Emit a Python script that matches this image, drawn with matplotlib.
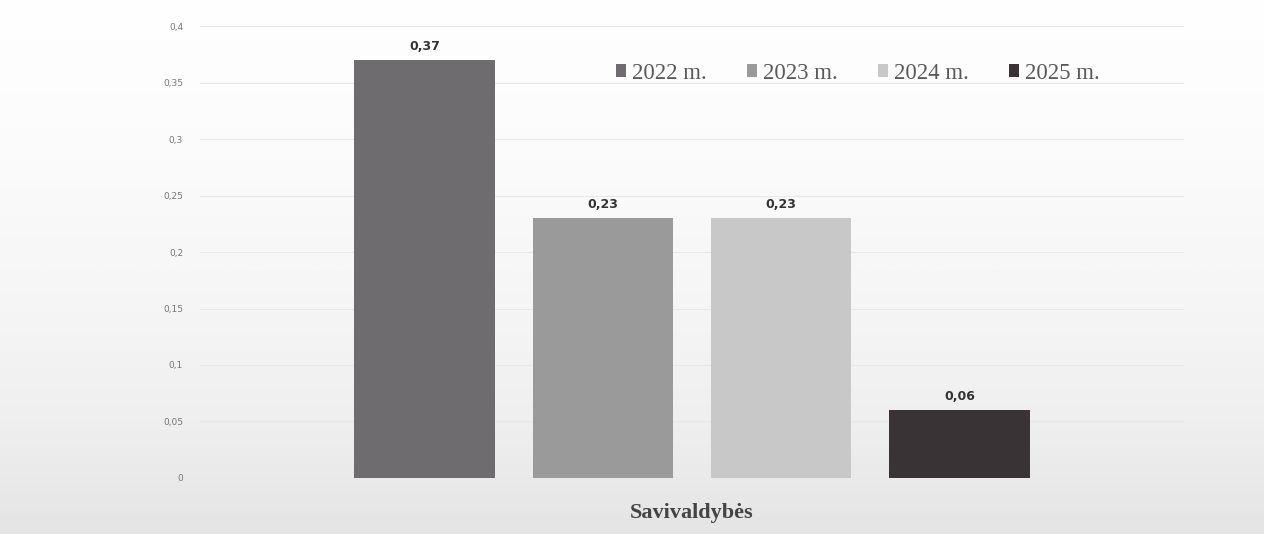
import numpy as np
import matplotlib.pyplot as plt

# ===== 数据 =====
category = 'Savivaldybės'
years = ['2022 m.', '2023 m.', '2024 m.', '2025 m.']
values = [0.37, 0.23, 0.23, 0.06]
colors = ['#6e6c6f', '#9b9a9b', '#c9c8c9', '#393335']
y_ticks = [0, 0.05, 0.1, 0.15, 0.2, 0.25, 0.3, 0.35, 0.4]
y_tick_labels = ['0', '0,05', '0,1', '0,15', '0,2', '0,25', '0,3', '0,35', '0,4']

# ===== 绘图 =====
fig = plt.figure(figsize=(12.64, 5.34), dpi=100, facecolor='white')

# 背景渐变（上白下灰，模拟扫描件）
bg = fig.add_axes([0, 0, 1, 1], zorder=-10)
grad = np.linspace(0, 1, 256).reshape(-1, 1) ** 1.6
bg.imshow(grad, aspect='auto', cmap='Greys', vmin=-0.05, vmax=5.5,
          extent=[0, 1, 0, 1], origin='upper')
bg.axis('off')

ax = fig.add_axes([0.158, 0.105, 0.779, 0.846])
ax.patch.set_alpha(0)

offsets = np.arange(len(years)) - (len(years) - 1) / 2
width = 0.787
for off, v, c, lab in zip(offsets, values, colors, years):
    ax.bar(off, v, width=width, color=c, label=lab, zorder=2)
    ax.text(off, v + 0.006, f'{v:.2f}'.replace('.', ','), ha='center', va='bottom',
            fontsize=9, fontweight='bold', color='#333333', family='DejaVu Sans')

ax.set_xlim(-2.76, 2.76)
ax.set_ylim(0, 0.4)
ax.set_yticks(y_ticks)
ax.set_yticklabels(y_tick_labels, fontsize=6.5, color='#777777')
ax.set_xticks([0])
ax.set_xticklabels([category], fontsize=16, fontweight='bold', color='#444444',
                   family='Liberation Serif')
ax.tick_params(axis='y', length=0, pad=12)
ax.tick_params(axis='x', length=0, pad=18)
ax.grid(axis='y', color='#e8e8ea', linewidth=0.8, zorder=0)
for s in ax.spines.values():
    s.set_visible(False)

ax.legend(loc='upper right', bbox_to_anchor=(0.935, 0.965), ncol=4, frameon=False,
          prop={'family': 'Liberation Serif', 'size': 16.5}, handlelength=0.45,
          handleheight=0.45, handletextpad=0.25, columnspacing=1.75, labelcolor='#5a5a5a')

fig.savefig('out.png', dpi=100)
